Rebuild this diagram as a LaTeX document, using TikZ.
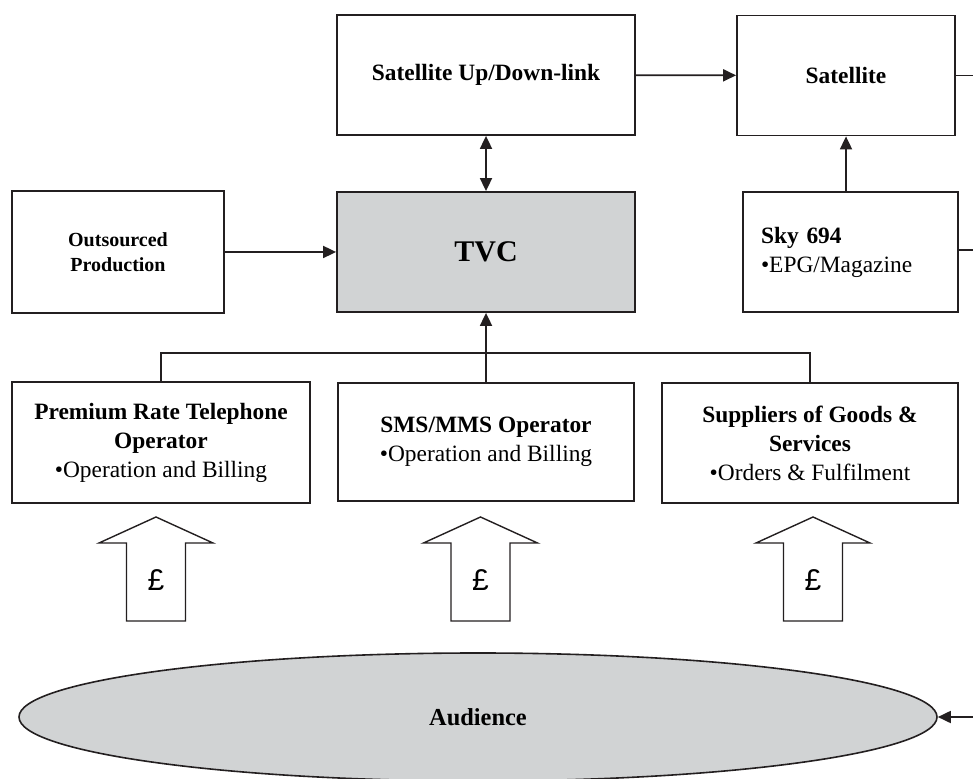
\documentclass[tikz,border=0pt]{standalone}
\usepackage{fontspec}
\setmainfont{Liberation Serif}
\newfontfamily\poundfont{Liberation Sans}
\usetikzlibrary{shapes,arrows.meta,positioning}
\definecolor{ink}{RGB}{35,31,32}
\definecolor{tvcgray}{RGB}{209,211,212}
\tikzset{
  block/.style={draw=ink, line width=0.9pt, inner sep=0pt, align=center, minimum width=149pt, minimum height=60pt, font=\fontsize{11.7}{14.5}\selectfont},
  link/.style={draw=ink, line width=0.9pt},
}

\begin{document}
\begin{tikzpicture}[x=0.5pt,y=-0.5pt, >={Triangle[length=6.5pt,width=6pt]}]
        \useasboundingbox (0,0) rectangle (973,779);
        % top row
        \node[block] (uplink) at (486,75) {\textbf{Satellite Up/Down-link}};
        \node[block, minimum width=109pt] (satellite) at (846,75.5) {\textbf{Satellite}};
        % middle row
        \node[block, minimum width=106pt, minimum height=61pt, font=\fontsize{10}{12.5}\selectfont\bfseries] (outsourced) at (118,252) {Outsourced\\Production};
        \node[block, fill=tvcgray, font=\fontsize{15}{18}\selectfont\bfseries] (tvc) at (486,252) {TVC};
        \node[block, minimum width=107.5pt, text width=89.5pt, align=left] (sky) at (850.5,252) {\textbf{Sky 694}\\•EPG/Magazine};
        % bottom row
        \node[block, minimum height=60.5pt] (premium) at (161,442.5) {\textbf{Premium Rate Telephone}\\\textbf{Operator}\\•Operation and Billing};
        \node[block, minimum width=148pt, minimum height=59pt] (sms) at (486,442) {\textbf{SMS/MMS Operator}\\•Operation and Billing};
        \node[block, minimum width=148pt] (suppliers) at (810,443) {\textbf{Suppliers of Goods \&}\\\textbf{Services}\\•Orders \& Fulfilment};
        % audience
        \node[draw=ink, line width=0.8pt, fill=tvcgray, ellipse, inner sep=0pt, minimum width=459pt, minimum height=64pt, font=\fontsize{12.2}{14}\selectfont\bfseries] (audience) at (478,717) {Audience};

        % free ends at the right margin
        \coordinate (outA) at (973,75.5);
        \coordinate (outB) at (973,250);
        \coordinate (inC) at (973,717);
        \coordinate (bus) at (486,353);

        \draw[link,->] (uplink) -- (satellite);
        \draw[link,<->] (uplink) -- (tvc);
        \draw[link,->] (outsourced) -- (tvc);
        \draw[link,->] (sky.north -| satellite) -- (satellite);
        \draw[link] (satellite.east) -- (outA);
        \draw[link] (sky.east |- outB) -- (outB);
        \draw[link] (premium.north) |- (bus) -| (suppliers.north);
        \draw[link,->] (sms) -- (tvc);
        \draw[link,->] (inC) -- (audience);

        % money arrows
        \foreach \cx/\nm in {156/poundA, 480.5/poundB, 813/poundC} {
            \draw[link, line width=0.7pt] (\cx,517) -- ++(57,26) -- ++(-27.5,0) -- ++(0,78) -- ++(-59,0) -- ++(0,-78) -- ++(-27.5,0) -- cycle;
            \node[font=\poundfont\fontsize{15}{17}\selectfont] (\nm) at (\cx,580) {£};
        }
    \end{tikzpicture}
\end{document}
